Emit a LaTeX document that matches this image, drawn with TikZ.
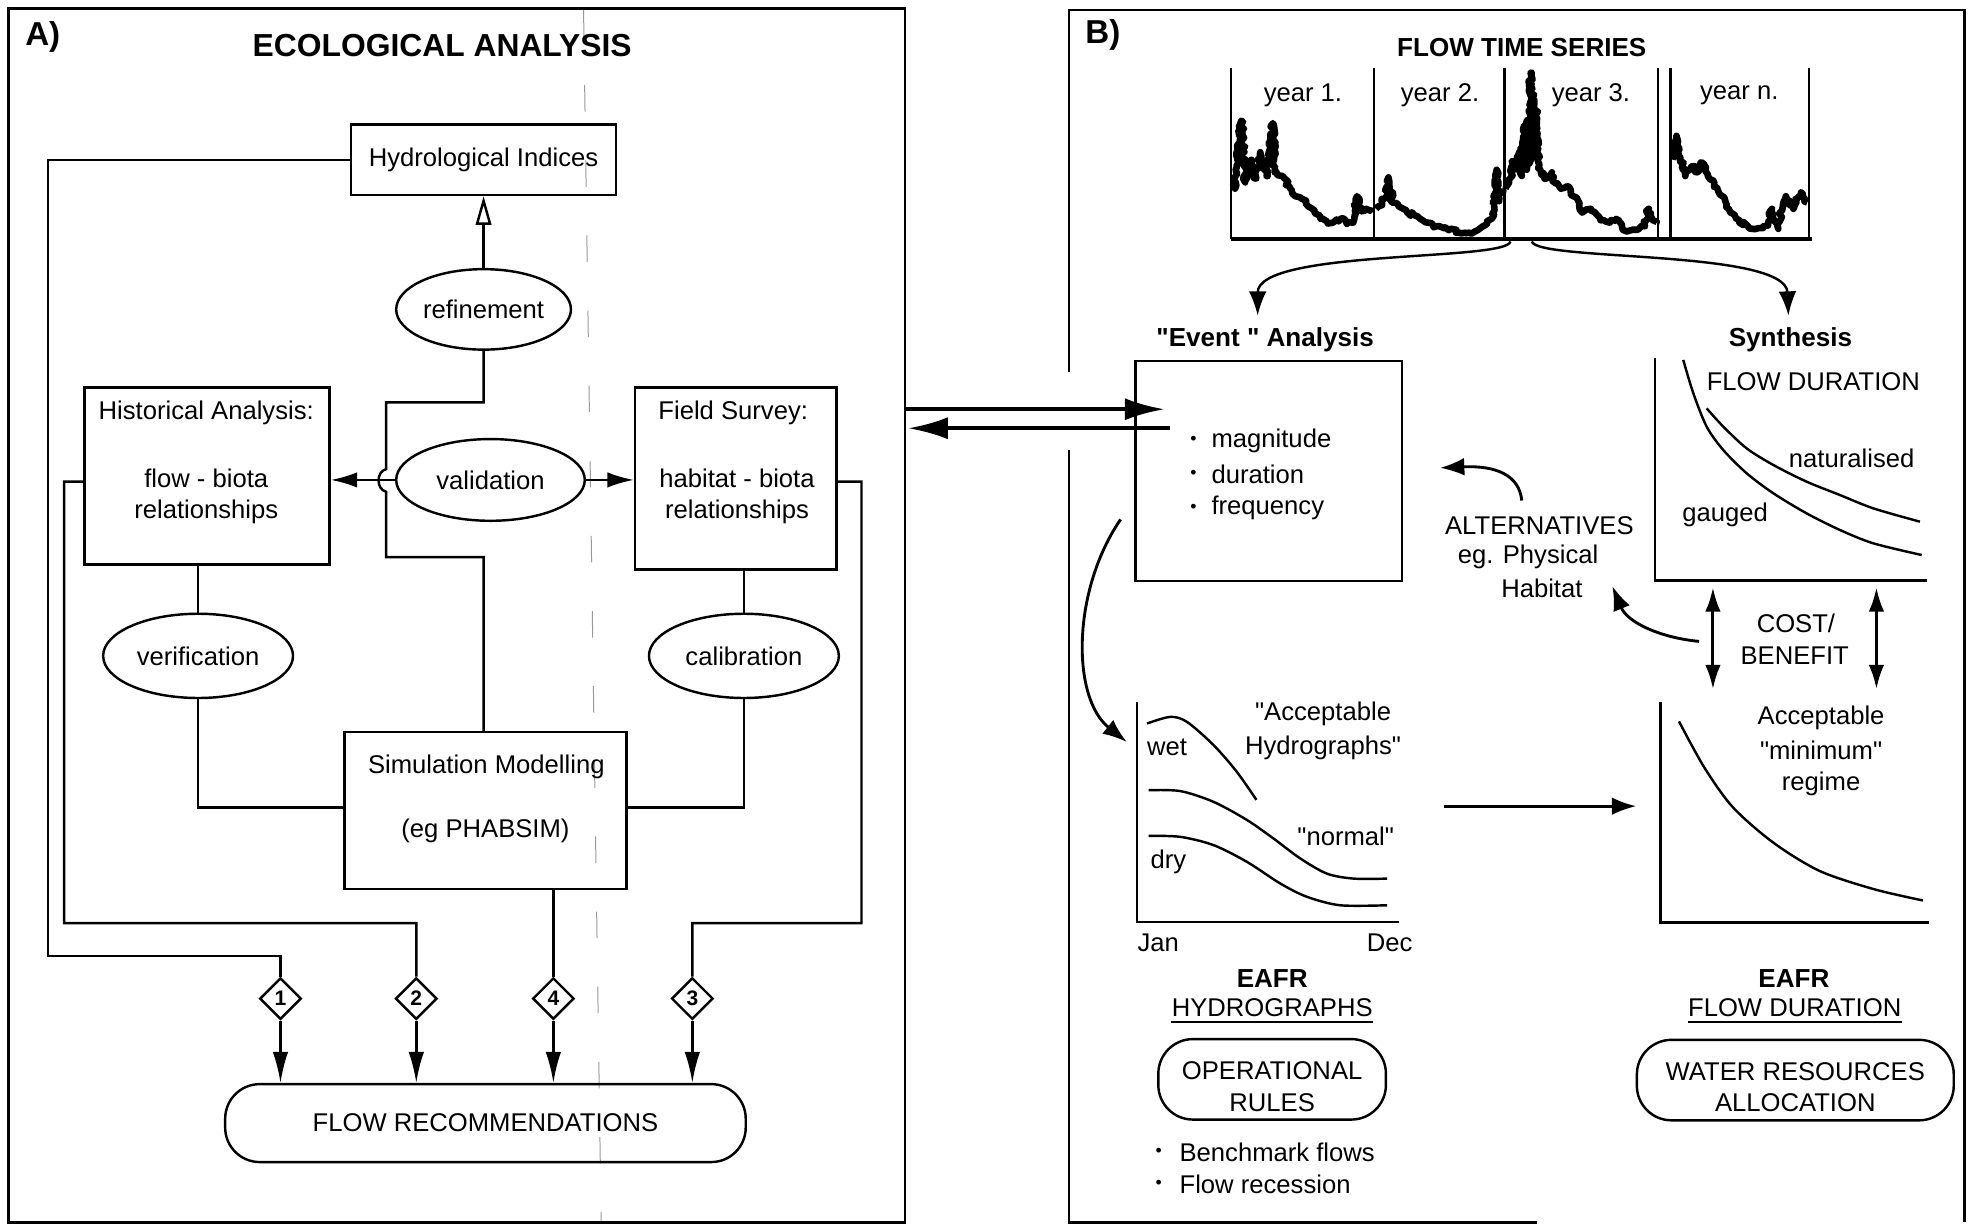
\documentclass[tikz,border=0pt]{standalone}
\usepackage{fontspec}
\setmainfont{Liberation Sans}
\usetikzlibrary{arrows.meta,shapes.geometric,decorations.pathmorphing,calc}
\newcommand{\qd}{\textquotedbl}
\begin{document}
\begin{tikzpicture}[x=0.02cm,y=-0.02cm,
  font=\fontsize{11.6}{14}\selectfont,
  ln/.style={line width=1.1pt},
  box/.style={draw,line width=1.1pt,inner sep=0pt,rectangle},
  oval/.style={draw,line width=1.1pt,ellipse,inner sep=0pt},
  txt/.style={inner sep=0pt},
  btxt/.style={inner sep=0pt,font=\fontsize{11.8}{14}\selectfont\bfseries},
  dia/.style={draw,line width=1.1pt,diamond,inner sep=0pt,minimum width=0.66cm,minimum height=0.66cm,font=\fontsize{9.5}{10}\selectfont\bfseries},
  pill/.style={draw,line width=1.1pt,rounded corners=0.55cm,inner sep=0pt},
  arrL/.style={-{Latex[length=14pt,width=7pt]}},
  arrS/.style={-{Latex[length=12pt,width=7pt]}},
  arrM/.style={-{Latex[length=11pt,width=8pt]}},
  bigarr/.style={line width=1.8pt,-{Latex[length=18pt,width=10pt]}},
  dbl/.style={line width=1.4pt,{Latex[length=11pt,width=7pt]}-{Latex[length=11pt,width=7pt]}},
  hyd/.style={line width=3pt,line join=round,decorate,decoration={random steps,segment length=1.3pt,amplitude=1pt}},
  frame/.style={line width=1.3pt}
]
\useasboundingbox (0,0) rectangle (1568,974);

% scan crease
\draw[black!40,line width=0.45pt,dash pattern=on 12pt off 22pt] (464,8) -- (478,972);

%================ PANEL A =================
\draw[frame] (7,7) rectangle (719.6,972);
\node[txt,font=\fontsize{15}{16}\selectfont\bfseries] (labA) at (34,29) {A)};
\node[txt,font=\fontsize{14.4}{16}\selectfont\bfseries] (titA) at (351.5,36) {ECOLOGICAL ANALYSIS};

\node[box,minimum width=4.22cm,minimum height=1.12cm] (hydro) at (384.5,127) {Hydrological Indices};
\node[oval,minimum width=2.78cm,minimum height=1.28cm] (refine) at (384.5,246) {refinement};

\node[box,minimum width=3.9cm,minimum height=2.82cm] (hist) at (164.5,378.5) {};
\node[txt] (histT1) at (164,328.5) {Historical Analysis:};
\node[txt] (histT2) at (164,380) {flow - biota};
\node[txt] (histT3) at (164,407) {relationships};

\node[box,minimum width=3.2cm,minimum height=2.9cm] (field) at (585,380.5) {};
\node[txt] (fieldT1) at (583,328.5) {Field Survey:};
\node[txt] (fieldT2) at (586,380) {habitat - biota};
\node[txt] (fieldT3) at (586,407) {relationships};

\node[oval,minimum width=3.0cm,minimum height=1.3cm] (valid) at (390,381.6) {validation};
\node[oval,minimum width=3.02cm,minimum height=1.34cm] (verif) at (157.5,521.5) {verification};
\node[oval,minimum width=3.02cm,minimum height=1.34cm] (calib) at (591.5,521.5) {calibration};

\node[box,minimum width=4.48cm,minimum height=2.5cm] (sim) at (386,644.5) {};
\node[txt] (simT1) at (386.7,610) {Simulation Modelling};
\node[txt] (simT2) at (386,661) {(eg PHABSIM)};

\node[dia] (d1) at (223,794) {1};
\node[dia] (d2) at (331,794) {2};
\node[dia] (d4) at (440,794) {4};
\node[dia] (d3) at (550.5,794) {3};

\node[pill,minimum width=8.28cm,minimum height=1.24cm] (rec) at (386,893) {FLOW RECOMMENDATIONS};

% connectors A
\draw[ln,-{Triangle[open,length=13pt,width=7pt]}] (refine.north) -- (hydro.south);
\draw[ln] (refine.south) -- (384.5,320) -- (307,320) -- (307,373)
   .. controls (299,375) and (299,389) .. (307,391) -- (307,443) -- (384.5,443) -- (refine |- sim.north);
\draw[ln,arrS] (valid.west) -- (valid.west -| hist.east);
\draw[ln,arrS] (valid.east) -- (valid.east -| field.west);
\draw[ln] (hydro.west) -- (38,127) -- (38,760) -- (223,760) -- (d1.north);
\draw[ln] ($(hist.west)+(0,4.5)$) -- (51,383) -- (51,734) -- (331,734) -- (d2.north);
\draw[ln] (sim.south -| d4) -- (d4.north);
\draw[ln] ($(field.east)+(0,2.5)$) -- (685,383) -- (685,734) -- (550.5,734) -- (d3.north);
\draw[ln] (verif |- hist.south) -- (verif.north);
\draw[ln] (verif.south) -- (157.5,642) -- ($(sim.west)+(0,-2.5)$);
\draw[ln] (calib |- field.south) -- (calib.north);
\draw[ln] (calib.south) -- (591.5,642) -- ($(sim.east)+(0,-2.5)$);
\foreach \d in {d1,d2,d4,d3} \draw[ln,arrL] (\d.south) -- (\d.south |- rec.north);

%================ MIDDLE ARROWS =================
\coordinate (mA1) at (719.6,325.4);
\coordinate (mB1) at (926,325.4);
\coordinate (mB2) at (930,340.5);
\coordinate (mA2) at (722,340.5);
\draw[bigarr] (mA1) -- (mB1);
\draw[bigarr] (mB2) -- (mA2);

%================ PANEL B =================
\draw[frame] (850,296) -- (850,8) -- (1562,8) -- (1562,972);
\draw[frame] (850,358) -- (850,972) -- (1222,972);
\node[txt,font=\fontsize{15}{16}\selectfont\bfseries] (labB) at (877,28) {B)};
\node[btxt] (titB) at (1210,37.7) {FLOW TIME SERIES};

% time series
\foreach \x in {978.8,1092.5,1196.4,1318.3,1328.2,1438.5} \draw[line width=1.1pt] (\x,54) -- (\x,190);
\draw[line width=1.4pt] (978.8,190) -- (1441,190);
\node[txt] (y1) at (1036,75.5) {year 1.};
\node[txt] (y2) at (1145,75.5) {year 2.};
\node[txt] (y3) at (1265,75.5) {year 3.};
\node[txt] (yn) at (1383,75.5) {year n.};
\pgfmathsetseed{7}
\draw[hyd] (980,145) -- (982,150) -- (987,96) -- (990,145) -- (995,127) -- (999,142) -- (1002,121) -- (1007,140) -- (1012,98) -- (1013.5,137) -- (1020,140) -- (1025,148) -- (1030,156) -- (1035,158) -- (1040,164) -- (1045,168) -- (1050,174) -- (1055,176) -- (1060,177) -- (1066,174) -- (1071,178) -- (1076,177) -- (1079,156) -- (1082,168) -- (1086,166) -- (1091,169);
\draw[hyd] (1094,166) -- (1096,164) -- (1101,158) -- (1104,141) -- (1107,161) -- (1112,164) -- (1119,169) -- (1127,172) -- (1135,177) -- (1143,180) -- (1152,183) -- (1160,185) -- (1168,185) -- (1175,183) -- (1181,179) -- (1186,174) -- (1188,171) -- (1190,135) -- (1192,160) -- (1195,150);
\draw[hyd] (1197,150) -- (1200,145) -- (1203,128) -- (1206,135) -- (1209,118) -- (1210,140) -- (1212,100) -- (1214,135) -- (1215,95) -- (1216,130) -- (1217,58) -- (1218,120) -- (1219,75) -- (1220,125) -- (1221,88) -- (1223,129) -- (1228,142) -- (1234,137) -- (1237,146) -- (1241,150) -- (1246,148) -- (1251,156) -- (1255,160) -- (1258,169) -- (1265,166) -- (1270,171) -- (1275,175) -- (1280,177) -- (1285,174) -- (1290,182) -- (1297,183) -- (1303,182) -- (1308,180) -- (1311,166) -- (1314,175) -- (1317,177);
\draw[hyd] (1330,127) -- (1333,108) -- (1336,125) -- (1340,140) -- (1344,134) -- (1347,132) -- (1350,137) -- (1353,129) -- (1356,136) -- (1358,140) -- (1363,145) -- (1368,155) -- (1373,163) -- (1378,170) -- (1383,177) -- (1390,180) -- (1396,182) -- (1402,180) -- (1406,177) -- (1409,166) -- (1411,176) -- (1414,182) -- (1417,165) -- (1420,156) -- (1423,163) -- (1426,166) -- (1429,158) -- (1432,153) -- (1435,158) -- (1437,161);

\coordinate (tsL) at (1201,192);
\coordinate (tsR) at (1218,192);
\coordinate (evTip) at (1000,251);
\coordinate (synTip) at (1422,251);
\draw[ln,arrM] (tsL) .. controls (1198,208) and (1000,198) .. (evTip);
\draw[ln,arrM] (tsR) .. controls (1222,208) and (1420,198) .. (synTip);

\node[btxt] (evlab) at (1006,270) {\qd Event \qd\ Analysis};
\node[btxt] (synlab) at (1423.6,270) {Synthesis};

% event box
\node[box,minimum width=4.24cm,minimum height=3.5cm] (event) at (1009,374.5) {};
\node[txt,font=\fontsize{8}{8}\selectfont] (eb1) at (949,350.5) {•};
\node[txt,font=\fontsize{8}{8}\selectfont] (eb2) at (949,377.3) {•};
\node[txt,font=\fontsize{8}{8}\selectfont] (eb3) at (949,404) {•};
\node[txt,anchor=west] (ev1) at (963,350.5) {magnitude};
\node[txt,anchor=west] (ev2) at (963,377.3) {duration};
\node[txt,anchor=west] (ev3) at (963,404) {frequency};

% flow duration chart
\coordinate (fdTop) at (1316,285);
\coordinate (fdO) at (1316,461.5);
\coordinate (fdEnd) at (1532,461.5);
\draw[line width=1.2pt] (fdTop) -- (fdO) -- (fdEnd);
\node[txt] (fdlab) at (1441.8,303.5) {FLOW DURATION};
\draw[ln] plot[smooth] coordinates {(1338.4,286.2) (1346.4,312.7) (1357,339.2) (1370.2,357.8) (1388.8,376.3) (1410,392.2) (1436.5,408.2) (1463,421.4) (1489.5,432) (1528,441.3)};
\draw[ln] plot[smooth] coordinates {(1357,324.7) (1370.2,339.2) (1388.8,356.5) (1410,369.7) (1436.5,383) (1463,393.6) (1489.5,404.2) (1526.6,414.8)};
\node[txt] (natlab) at (1472.3,364.4) {naturalised};
\node[txt] (gaulab) at (1371.6,409.5) {gauged};

% alternatives
\node[txt] (alt1) at (1224,418) {ALTERNATIVES};
\node[txt] (alt2) at (1215,443) {eg. Physical};
\node[txt] (alt3) at (1226,468) {Habitat};
\coordinate (altS) at (1210,398);
\coordinate (altT) at (1145,372);
\draw[line width=1.3pt,arrM] (altS) .. controls (1208,378) and (1190,370) .. (altT);
\coordinate (cbS) at (1351,510);
\coordinate (cbT) at (1282,466);
\draw[line width=1.3pt,arrM] (cbS) .. controls (1320,507) and (1294,495) .. (cbT);

% cost benefit
\draw[dbl] (1362,467) -- (1362,548);
\draw[dbl] (1492,467) -- (1492,548);
\node[txt] (cb1) at (1428,496) {COST/};
\node[txt] (cb2) at (1427,521) {BENEFIT};

% hydrographs chart
\coordinate (hyTop) at (904,558);
\coordinate (hyO) at (904,733);
\coordinate (hyEnd) at (1112,733);
\draw[line width=1.2pt] (hyTop) -- (hyO) -- (hyEnd);
\draw[ln] plot[smooth] coordinates {(912,575.3) (930.5,570) (943.8,574) (965,592.5) (983.5,613.8) (999,636)};
\draw[ln] plot[smooth] coordinates {(913.3,628.3) (938.5,629) (965,637.6) (991.5,652) (1012.7,666.8) (1033.9,682.6) (1055,694.6) (1076.3,698.6) (1103,698.6)};
\draw[ln] plot[smooth] coordinates {(913.3,664.6) (938.5,665.4) (965,672) (991.5,685.3) (1018,702.5) (1039,713) (1065.6,719.8) (1103,719.8)};
\node[txt] (wet) at (928,594) {wet};
\node[txt] (dry) at (929,685.3) {dry};
\node[txt] (normal) at (1070,665) {\qd normal\qd};
\node[txt] (acc1) at (1052,568) {\qd Acceptable};
\node[txt] (acc2) at (1052,594.5) {Hydrographs\qd};
\node[txt] (jan) at (921,750) {Jan};
\node[txt] (dec) at (1105,750) {Dec};

% event -> hydrographs curved arrow
\coordinate (evS) at (891,413);
\coordinate (hyT) at (896,590);
\draw[line width=1.3pt,arrM] (evS) .. controls (852,470) and (852,555) .. (hyT);

% hydrographs -> min regime
\coordinate (hA) at (1148,641);
\coordinate (hB) at (1301,641);
\draw[line width=1.3pt,arrM] (hA) -- (hB);

% minimum regime chart
\coordinate (mrTop) at (1320.5,558);
\coordinate (mrO) at (1320.5,733.5);
\coordinate (mrEnd) at (1534,733.5);
\draw[line width=1.2pt] (mrTop) -- (mrO) -- (mrEnd);
\draw[ln] plot[smooth] coordinates {(1335,573.6) (1355,610) (1377.8,641.8) (1410,670) (1446.8,692.5) (1490,707) (1529,716)};
\node[txt] (mr1) at (1448,570.5) {Acceptable};
\node[txt] (mr2) at (1448,597) {\qd minimum\qd};
\node[txt] (mr3) at (1448,623) {regime};

% bottom labels
\node[btxt] (eafr1) at (1011.6,778) {EAFR};
\node[txt] (hygr) at (1011.6,801) {HYDROGRAPHS};
\draw[line width=0.6pt] ($(hygr.south west)+(0,4)$) -- ($(hygr.south east)+(0,4)$);
\node[btxt] (eafr2) at (1426.4,778) {EAFR};
\node[txt] (fdur) at (1427,801) {FLOW DURATION};
\draw[line width=0.6pt] ($(fdur.south west)+(0,4)$) -- ($(fdur.south east)+(0,4)$);

\node[pill,minimum width=3.62cm,minimum height=1.28cm] (oprules) at (1011.5,858.2) {};
\node[txt,align=center,font=\fontsize{11.6}{14.2}\selectfont] (opT) at (1011.5,864) {OPERATIONAL\\RULES};
\node[pill,minimum width=5.04cm,minimum height=1.28cm] (water) at (1427.5,858.8) {};
\node[txt,align=center,font=\fontsize{11.6}{14.2}\selectfont] (waT) at (1427.5,864.5) {WATER RESOURCES\\ALLOCATION};

\node[txt,font=\fontsize{8}{8}\selectfont] (bb1) at (921.4,916) {•};
\node[txt,font=\fontsize{8}{8}\selectfont] (bb2) at (921.4,942) {•};
\node[txt,anchor=west] (bt1) at (937.6,916) {Benchmark flows};
\node[txt,anchor=west] (bt2) at (937.6,942) {Flow recession};

\end{tikzpicture}
\end{document}
